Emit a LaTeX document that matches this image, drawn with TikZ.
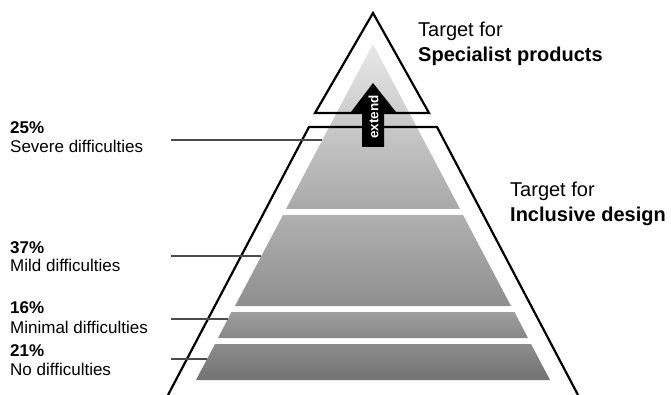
\documentclass[tikz,border=0pt]{standalone}
\usepackage{fontspec}
\setmainfont{Liberation Sans}
\begin{document}
\begin{tikzpicture}[x=1pt,y=-1pt,
  outline/.style={draw=black,line width=2.2pt},
  pointer/.style={draw=black!70,line width=1.1pt},
  pct/.style={anchor=base west,inner sep=0pt,font=\fontsize{17}{20}\selectfont\bfseries},
  grp/.style={anchor=base west,inner sep=0pt,font=\fontsize{17}{20}\selectfont},
  tgt/.style={anchor=base west,inner sep=0pt,font=\fontsize{20}{24}\selectfont},
  tgtbold/.style={tgt,font=\fontsize{20}{24}\selectfont\bfseries}]
 \useasboundingbox (0,0) rectangle (671,395);
 % grey bands of the pyramid
 \shade[top color=black!9,bottom color=black!34](373,44)--(460,209)--(286,209)--cycle;
 \shade[top color=black!31,bottom color=black!44](283,215)--(463,215)--(511,306)--(235,306)--cycle;
 \shade[top color=black!38,bottom color=black!47](231.5,312)--(514.5,312)--(528,338)--(218,338)--cycle;
 \shade[top color=black!45,bottom color=black!55](215,344)--(531,344)--(550,380)--(196,380)--cycle;
 % target outlines
 \draw[outline](373,13)--(429,113)--(315,113)--cycle;
 \draw[outline](168,395)--(309,127)--(437,127)--(578,395);
 % extend arrow
 \fill[black](362,147)--(362,112)--(351,112)--(373,83)--(396,112)--(384,112)--(384,147)--cycle;
 \node[rotate=90,text=white,inner sep=0pt,font=\fontsize{13.5}{15}\selectfont\bfseries] (extend) at (373.5,117) {extend};
 % left labels
 \node[pct] (severe-p) at (10,134) {25\%};
 \node[grp] (severe) at (10,153) {Severe difficulties};
 \node[pct] (mild-p) at (10,253) {37\%};
 \node[grp] (mild) at (10,271) {Mild difficulties};
 \node[pct] (minimal-p) at (10,313) {16\%};
 \node[grp] (minimal) at (10,333) {Minimal difficulties};
 \node[pct] (none-p) at (10,356) {21\%};
 \node[grp] (none) at (10,375) {No difficulties};
 \coordinate (severe-l) at (171,140);  \coordinate (severe-r) at (322,140);
 \coordinate (mild-l) at (171,256);    \coordinate (mild-r) at (261,256);
 \coordinate (minimal-l) at (171,319); \coordinate (minimal-r) at (228,319);
 \coordinate (none-l) at (171,359);    \coordinate (none-r) at (207,359);
 \draw[pointer](severe-l)--(severe-r);
 \draw[pointer](mild-l)--(mild-r);
 \draw[pointer](minimal-l)--(minimal-r);
 \draw[pointer](none-l)--(none-r);
 % right labels
 \node[tgt] (spec-a) at (418,37) {Target for};
 \node[tgtbold] (spec-b) at (418,62) {Specialist products};
 \node[tgt] (incl-a) at (510,197) {Target for};
 \node[tgtbold] (incl-b) at (510,222) {Inclusive design};
\end{tikzpicture}
\end{document}
